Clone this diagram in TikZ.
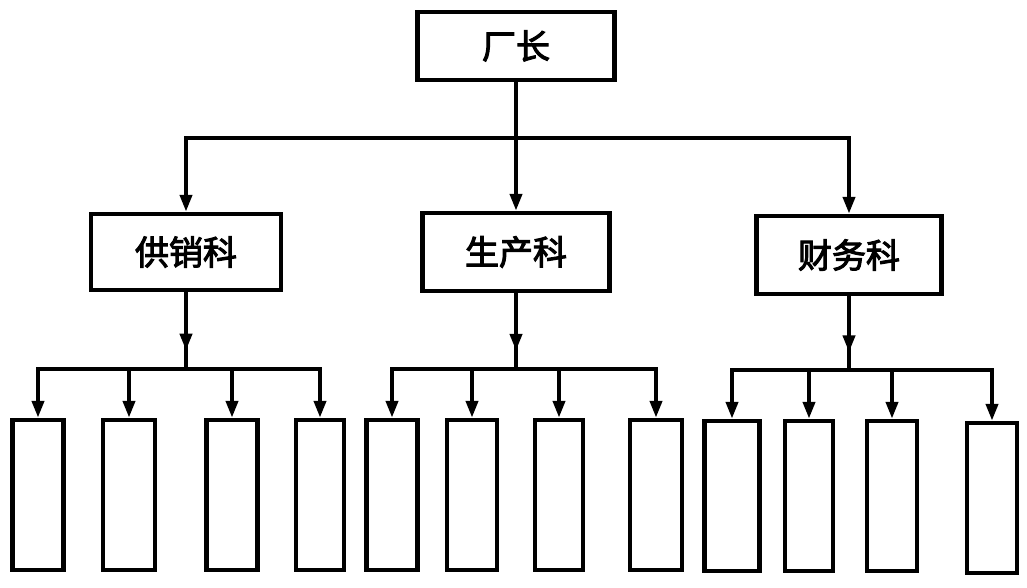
\documentclass[tikz,border=0pt]{standalone}
\usepackage{fontspec}
\newfontfamily\cjk[FakeBold=3]{Noto Sans CJK SC}
\usetikzlibrary{arrows.meta,decorations.markings}
\begin{document}
\begin{tikzpicture}[x=1pt,y=-1pt,
  box/.style={draw,line width=4.5pt,inner sep=0pt},
  lab/.style={box,font=\cjk\fontsize{34}{40}\selectfont},
  leaf/.style={box,minimum height=150pt},
  conn/.style={line width=4pt},
  arr/.style={conn,-{Triangle[length=17pt,width=12pt]}},
  midarr/.style={conn,decoration={markings,mark=at position 0.76 with {\arrow{Triangle[length=17pt,width=12pt]}}},postaction={decorate}}]
\useasboundingbox (0,0) rectangle (1027,588);
% top
\node[lab,minimum width=197pt,minimum height=68pt] (top) at (516,46) {厂长};
% level 2
\node[lab,minimum width=190pt,minimum height=76pt] (gx) at (186,252) {供销科};
\node[lab,minimum width=187pt,minimum height=78pt] (sc) at (516,252) {生产科};
\node[lab,minimum width=185pt,minimum height=78pt] (cw) at (849,255) {财务科};
% leaves
\node[leaf,minimum width=51pt] (l1) at (38,495) {};
\node[leaf,minimum width=52pt] (l2) at (129,495) {};
\node[leaf,minimum width=51pt] (l3) at (232,495) {};
\node[leaf,minimum width=48pt] (l4) at (320,495) {};
\node[leaf,minimum width=51pt] (m1) at (392,495) {};
\node[leaf,minimum width=50pt] (m2) at (472,495) {};
\node[leaf,minimum width=48pt] (m3) at (559,495) {};
\node[leaf,minimum width=52pt] (m4) at (656,495) {};
\node[leaf,minimum width=55pt] (r1) at (732,496) {};
\node[leaf,minimum width=48pt] (r2) at (809,496) {};
\node[leaf,minimum width=50pt] (r3) at (892,496) {};
\node[leaf,minimum width=50pt] (r4) at (992,498) {};
% top connectors
\coordinate (jt) at (516,138);
\draw[conn] (top.south) -- (jt);
\draw[arr] (jt) -| (gx.north);
\draw[arr] (jt) -| (cw.north);
\draw[arr] (jt) -- (sc.north);
% left group
\coordinate (bl) at (186,369);
\draw[midarr] (gx.south) -- (bl);
\draw[arr] (bl) -| (l1.north);
\draw[arr] (bl) -| (l2.north);
\draw[arr] (bl) -| (l3.north);
\draw[arr] (bl) -| (l4.north);
% middle group
\coordinate (bm) at (516,369);
\draw[midarr] (sc.south) -- (bm);
\draw[arr] (bm) -| (m1.north);
\draw[arr] (bm) -| (m2.north);
\draw[arr] (bm) -| (m3.north);
\draw[arr] (bm) -| (m4.north);
% right group
\coordinate (br) at (849,370);
\draw[midarr] (cw.south) -- (br);
\draw[arr] (br) -| (r1.north);
\draw[arr] (br) -| (r2.north);
\draw[arr] (br) -| (r3.north);
\draw[arr] (br) -| (r4.north);
\end{tikzpicture}
\end{document}
